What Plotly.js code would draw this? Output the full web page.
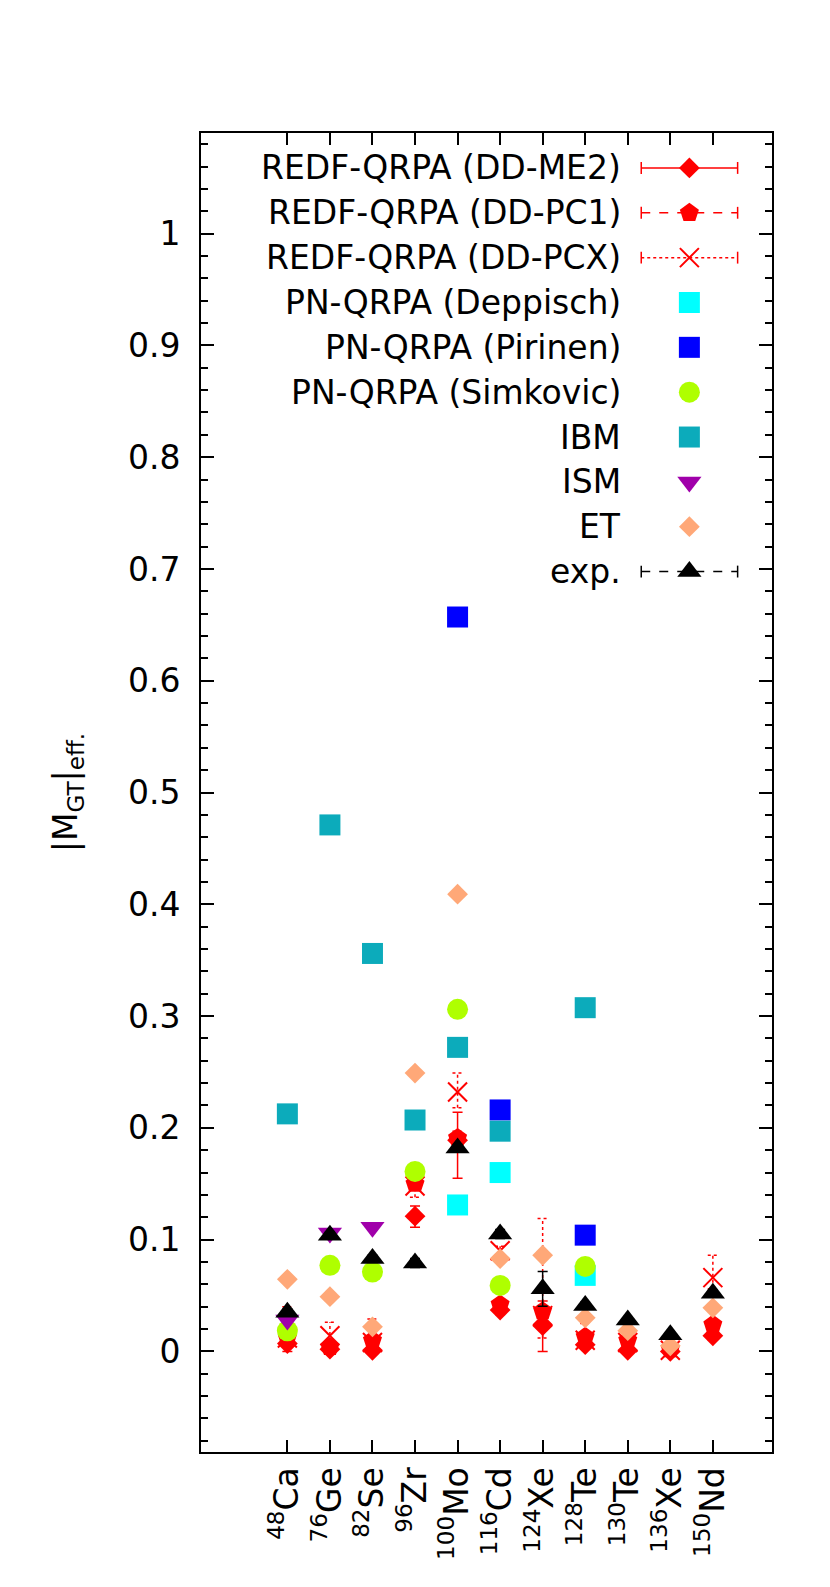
<!DOCTYPE html>
<html><head><meta charset="utf-8">
<script src="https://cdn.plot.ly/plotly-3.0.1.min.js"></script>
<style>html,body{margin:0;padding:0;background:#fff;} #chart{width:830px;height:1587px;}</style>
</head><body><div id="chart"></div>
<script>
// ---- data ----
const nuclei = ['48Ca','76Ge','82Se','96Zr','100Mo','116Cd','124Xe','128Te','130Te','136Xe','150Nd'];
const tickLabels = ['<sup>48</sup>Ca','<sup>76</sup>Ge','<sup>82</sup>Se','<sup>96</sup>Zr','<sup>100</sup>Mo','<sup>116</sup>Cd','<sup>124</sup>Xe','<sup>128</sup>Te','<sup>130</sup>Te','<sup>136</sup>Xe','<sup>150</sup>Nd'];
const xIndex = [0,1,2,3,4,5,6,7,8,9,10];

const me2      = [0.007, 0.002, 0.001, 0.121, 0.189, 0.037, 0.023, 0.006, 0.001, 0.000, 0.014];
const me2Plus  = [0.004, 0.004, 0.004, 0.009, 0.025, 0.004, 0.022, 0.004, 0.002, 0.001, 0.004];
const me2Minus = [0.007, 0.002, 0.001, 0.010, 0.034, 0.004, 0.023, 0.004, 0.001, 0.000, 0.004];

const pc1      = [0.012, 0.004, 0.010, 0.150, 0.191, 0.042, 0.036, 0.013, 0.010, 0.002, 0.024];
const pc1Plus  = [0.004, 0.004, 0.004, 0.004, 0.006, 0.004, 0.005, 0.012, 0.003, 0.002, 0.004];
const pc1Minus = [0.004, 0.004, 0.004, 0.004, 0.006, 0.004, 0.005, 0.004, 0.003, 0.002, 0.004];

const pcx      = [0.012, 0.014, 0.008, 0.148, 0.232, 0.090, 0.032, 0.010, 0.008, 0.001, 0.066];
const pcxPlus  = [0.028, 0.012, 0.021, 0.020, 0.017, 0.004, 0.087, 0.006, 0.004, 0.002, 0.020];
const pcxMinus = [0.004, 0.010, 0.004, 0.010, 0.014, 0.004, 0.020, 0.004, 0.004, 0.001, 0.010];

const deppisch = [null, null, null, null, 0.131, 0.160, null, 0.068, null, null, null];
const pirinen  = [null, null, null, null, 0.657, 0.216, null, 0.104, null, null, null];
const simkovic = [0.0185, 0.077, 0.071, 0.161, 0.306, 0.059, null, 0.076, null, null, null];
const ibm      = [0.2125, 0.471, 0.356, 0.207, 0.272, 0.197, null, 0.3075, null, null, null];
const ism      = [0.028, 0.106, 0.111, null, null, null, null, null, null, null, null];
const et       = [0.0645, 0.049, 0.022, 0.249, 0.409, 0.083, 0.086, 0.030, 0.0185, 0.005, 0.039];
const expVal   = [0.035, 0.104, 0.083, 0.079, 0.182, 0.105, 0.056, 0.041, 0.028, 0.015, 0.052];
const expErr   = [0.003, 0.003, 0.003, 0.004, 0.003, 0.004, 0.0155, 0.003, 0.001, 0.001, 0.003];

const legendLabels = ['REDF-QRPA (DD-ME2)','REDF-QRPA (DD-PC1)','REDF-QRPA (DD-PCX)','PN-QRPA (Deppisch)','PN-QRPA (Pirinen)','PN-QRPA (Simkovic)','IBM','ISM','ET','exp.'];

// ---- styles ----
const FONT = 'DejaVu Sans';
const RED = '#ff0000';
const styles = [
  {color: RED, symbol: 'diamond', size: 16, dash: 'solid', line: true},
  {color: RED, symbol: 'pentagon', size: 20, dash: 'dash', line: true},
  {color: RED, symbol: 'x-thin-open', size: 19, dash: 'dot', line: true},
  {color: '#00ffff', symbol: 'square', size: 21},
  {color: '#0000ff', symbol: 'square', size: 21},
  {color: '#afff00', symbol: 'circle', size: 21},
  {color: '#0cabbb', symbol: 'square', size: 21},
  {color: '#a000aa', symbol: 'triangle-down', size: 21},
  {color: '#ffa878', symbol: 'diamond', size: 16},
  {color: '#000000', symbol: 'triangle-up', size: 21, dash: 'dash', line: true}
];

function markerOf(i) {
  const s = styles[i];
  const m = {color: s.color, symbol: s.symbol, size: s.size};
  if (s.symbol.indexOf('open') >= 0) m.line = {color: s.color, width: 2};
  else m.line = {width: 0};
  return m;
}

// error bars drawn as line segments (for dashed / dotted styles)
function errTrace(vals, plus, minus, color, dash) {
  const cap = 0.12;
  const xs = [], ys = [];
  vals.forEach((v, i) => {
    if (v === null) return;
    const lo = v - minus[i], hi = v + plus[i];
    xs.push(xIndex[i], xIndex[i], null); ys.push(lo, hi, null);
    xs.push(xIndex[i] - cap, xIndex[i] + cap, null); ys.push(hi, hi, null);
    xs.push(xIndex[i] - cap, xIndex[i] + cap, null); ys.push(lo, lo, null);
  });
  return {x: xs, y: ys, mode: 'lines', line: {color: color, width: 1.5, dash: dash},
          showlegend: false, hoverinfo: 'skip'};
}

const traces = [];
// DD-ME2 (solid error bars)
traces.push({x: xIndex, y: me2, mode: 'markers', marker: markerOf(0), showlegend: false,
  error_y: {type: 'data', symmetric: false, array: me2Plus, arrayminus: me2Minus, color: RED, thickness: 1.5, width: 5}});
// DD-PC1
traces.push(errTrace(pc1, pc1Plus, pc1Minus, RED, 'dash'));
traces.push({x: xIndex, y: pc1, mode: 'markers', marker: markerOf(1), showlegend: false});
// DD-PCX
traces.push(errTrace(pcx, pcxPlus, pcxMinus, RED, 'dot'));
traces.push({x: xIndex, y: pcx, mode: 'markers', marker: markerOf(2), showlegend: false});
// others
[deppisch, pirinen, simkovic, ibm, ism, et].forEach((arr, k) => {
  traces.push({x: xIndex, y: arr, mode: 'markers', marker: markerOf(3 + k), showlegend: false});
});
// exp
traces.push({x: xIndex, y: expVal, mode: 'markers', marker: markerOf(9), showlegend: false,
  error_y: {type: 'data', array: expErr, color: '#000', thickness: 1.5, width: 5}});

// ---- custom legend (text right-aligned, sample on the right) ----
const legTop = 0.9735, legStep = 0.034;
const legTextX = 0.7303, legLine0 = 0.771, legLine1 = 0.9398, legMark = 0.8553;
const annotations = [];
legendLabels.forEach((lab, i) => {
  const y = legTop - i * legStep;
  annotations.push({xref: 'paper', yref: 'paper', x: legTextX, y: y, xanchor: 'right', yanchor: 'middle',
    xshift: 5, text: lab, showarrow: false, font: {family: FONT, size: 33, color: '#000'}});
  const s = styles[i];
  if (s.line) {
    traces.push({x: [legLine0, legLine1], y: [y, y], xaxis: 'x2', yaxis: 'y2', mode: 'lines',
      line: {color: s.color, width: 1.5, dash: s.dash}, showlegend: false, hoverinfo: 'skip',
      error_y: {type: 'constant', value: 0.0045, color: s.color, thickness: 1.5, width: 0}});
  }
  traces.push({x: [legMark], y: [y], xaxis: 'x2', yaxis: 'y2', mode: 'markers',
    marker: markerOf(i), showlegend: false, hoverinfo: 'skip'});
});

const layout = {
  width: 830, height: 1587,
  margin: {l: 201, r: 58, t: 133, b: 135},
  paper_bgcolor: '#fff', plot_bgcolor: '#fff',
  font: {family: FONT, size: 33, color: '#000'},
  showlegend: false,
  xaxis: {
    range: [-2.03, 11.39], tickmode: 'array', tickvals: xIndex, ticktext: tickLabels,
    tickangle: -90, ticks: 'inside', ticklen: 12, tickwidth: 2, tickcolor: '#000',
    showline: true, linewidth: 2, linecolor: '#000', mirror: 'ticks',
    showgrid: false, zeroline: false, tickfont: {family: FONT, size: 33, color: '#000'}
  },
  yaxis: {
    range: [-0.09, 1.09], tick0: 0, dtick: 0.1, ticks: 'inside', ticklen: 13, tickwidth: 2, tickcolor: '#000',
    minor: {dtick: 0.02, ticks: 'inside', ticklen: 7, tickwidth: 2, tickcolor: '#000', showgrid: false},
    showline: true, linewidth: 2, linecolor: '#000', mirror: 'ticks',
    showgrid: false, zeroline: false, ticklabelstandoff: 12,
    tickfont: {family: FONT, size: 33, color: '#000'},
    title: {text: '|M<sub>GT</sub>|<sub>eff.</sub>', font: {family: FONT, size: 33, color: '#000'}, standoff: 40}
  },
  xaxis2: {overlaying: 'x', range: [0, 1], visible: false, fixedrange: true},
  yaxis2: {overlaying: 'y', range: [0, 1], visible: false, fixedrange: true},
  annotations: annotations
};

Plotly.newPlot('chart', traces, layout, {staticPlot: true, displayModeBar: false});
</script>
</body></html>
